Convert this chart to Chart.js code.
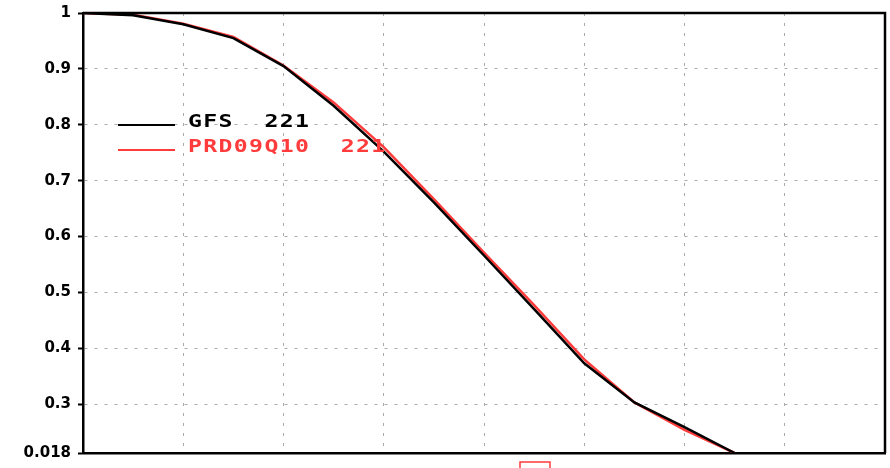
<!DOCTYPE html>
<html>
<head>
<meta charset="utf-8">
<script src="https://cdn.jsdelivr.net/npm/chart.js@4.4.0/dist/chart.umd.min.js"></script>
<style>
  html, body { margin: 0; padding: 0; background: #fff; }
  #wrap { width: 890px; height: 468px; }
</style>
</head>
<body>
<div id="wrap"><canvas id="chart" width="890" height="468"></canvas></div>
<script>
// x positions (half grid steps), axis runs 0..16
const steps = [0, 1, 2, 3, 4, 5, 6, 7, 8, 9, 10, 11, 12, 13];
const gfs = [1.0, 0.996, 0.980, 0.955, 0.905, 0.834, 0.752, 0.661, 0.566, 0.470, 0.373, 0.303, 0.259, 0.2125];
const prd = [1.0, 0.997, 0.981, 0.957, 0.906, 0.840, 0.760, 0.667, 0.571, 0.477, 0.380, 0.303, 0.254, 0.2125];
const seriesNames = ["GFS  221", "PRD09Q10  221"];
const yTicks = [0.2125, 0.3, 0.4, 0.5, 0.6, 0.7, 0.8, 0.9, 1.0];
const bottomLabel = "0.018";

const RED = "#ff3b3b";

// frame on top and right + the old-style legend inside the plot
const framePlugin = {
  id: "frame",
  afterDatasetsDraw(chart) {
    const { ctx, chartArea: a } = chart;
    ctx.save();
    ctx.strokeStyle = "#000";
    ctx.lineWidth = 2.5;
    ctx.beginPath();
    ctx.moveTo(a.left, a.top);
    ctx.lineTo(a.right, a.top);
    ctx.lineTo(a.right, a.bottom);
    ctx.stroke();

    // legend
    const items = [
      { name: seriesNames[0], color: "#000" },
      { name: seriesNames[1], color: RED }
    ];
    items.forEach((it, i) => {
      const y = a.top + 112 + i * 25;
      ctx.strokeStyle = it.color;
      ctx.lineWidth = 2;
      ctx.beginPath();
      ctx.moveTo(a.left + 35, y);
      ctx.lineTo(a.left + 92, y);
      ctx.stroke();
      ctx.save();
      ctx.translate(a.left + 105, y - 2);
      ctx.scale(1.36, 1);
      ctx.fillStyle = it.color;
      ctx.font = "bold 17px 'DejaVu Sans Mono'";
      ctx.letterSpacing = "1px";
      ctx.textBaseline = "middle";
      ctx.fillText(it.name, 0, 0);
      ctx.restore();
    });

    // small clipped box under the axis
    ctx.strokeStyle = RED;
    ctx.lineWidth = 1.5;
    ctx.strokeRect(520, a.bottom + 9, 30, 12);
    ctx.restore();
  }
};

const toPoints = (vals) => vals.map((v, i) => ({ x: steps[i], y: v }));

new Chart(document.getElementById("chart"), {
  type: "line",
  data: {
    datasets: [
      { label: seriesNames[0], data: toPoints(gfs), borderColor: "#000", borderWidth: 2.5, pointRadius: 0, tension: 0 },
      { label: seriesNames[1], data: toPoints(prd), borderColor: RED, borderWidth: 2.5, pointRadius: 0, tension: 0 }
    ]
  },
  options: {
    responsive: false,
    animation: false,
    layout: { padding: { top: 13, right: 5, left: 0, bottom: 0 } },
    plugins: { legend: { display: false }, tooltip: { enabled: false } },
    scales: {
      x: {
        type: "linear",
        min: 0,
        max: 16,
        ticks: { stepSize: 2, display: false },
        grid: { color: "#aaa", lineWidth: 1, drawTicks: false },
        border: { display: true, color: "#000", width: 2.5, dash: [3, 7] },
        afterFit(scale) { scale.height = 15; }
      },
      y: {
        min: yTicks[0],
        max: 1,
        afterBuildTicks(scale) { scale.ticks = yTicks.map(v => ({ value: v })); },
        ticks: {
          color: "#000",
          padding: 7,
          font: { family: "'DejaVu Sans'", size: 15, weight: "bold" },
          callback: (v) => v === yTicks[0] ? bottomLabel : String(Math.round(v * 10) / 10)
        },
        grid: { color: "#aaa", lineWidth: 1, tickLength: 5, tickColor: "#000", tickWidth: 2, tickBorderDash: [] },
        border: { display: true, color: "#000", width: 2.5, dash: [3, 7] },
        afterFit(scale) {
          scale.width = 83;
          scale.paddingTop = 0;
          scale.paddingBottom = 0;
        }
      }
    }
  },
  plugins: [framePlugin]
});
</script>
</body>
</html>
